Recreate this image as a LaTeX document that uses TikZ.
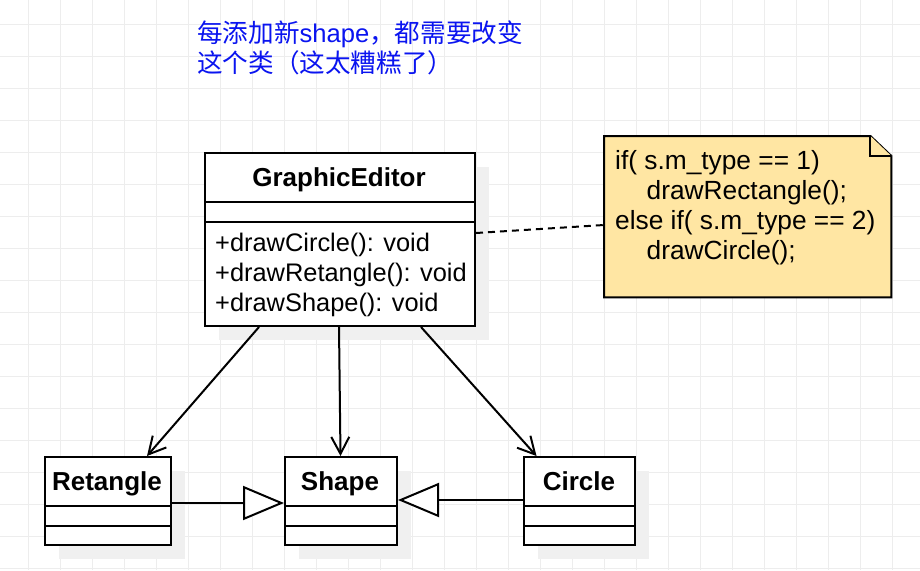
\documentclass[tikz,border=0pt]{standalone}
\usepackage{fontspec}
\setmainfont{Liberation Sans}
\newfontfamily\cjk{Noto Sans CJK SC}
\usetikzlibrary{arrows.meta,shadows}
\definecolor{gridc}{HTML}{EDEDED}
\definecolor{shadowc}{HTML}{F0F0F0}
\definecolor{notec}{HTML}{FFE6A3}
\definecolor{titlec}{HTML}{0A14F0}
\tikzset{
  gridline/.style={gridc, line width=1pt},
  classbox/.style={draw=black, line width=2pt, fill=white, inner sep=0pt, anchor=north west,
    general shadow={fill=shadowc, shadow xshift=14pt, shadow yshift=-14pt}},
  divider/.style={draw=black, line width=2pt},
  classname/.style={font=\bfseries\fontsize{26}{30}\selectfont, anchor=base, inner sep=0pt},
  member/.style={anchor=base west, inner sep=0pt, font=\fontsize{25.4}{30}\selectfont},
  notetext/.style={anchor=base west, inner sep=0pt, font=\fontsize{26.3}{30}\selectfont},
  assoc/.style={draw=black, line width=2pt, -{Straight Barb[length=17pt, width=18pt]}},
  gen/.style={draw=black, line width=2pt, line join=miter, -{Triangle[length=41pt, width=34pt, fill=white]}},
  notelink/.style={draw=black, line width=2pt, dash pattern=on 7pt off 5pt},
  notebody/.style={fill=notec, draw=black, line width=2pt, line join=miter},
  titletext/.style={text=titlec, anchor=base west, inner sep=0pt, font=\fontsize{25.6}{30}\selectfont}
}
\begin{document}
\begin{tikzpicture}[x=1pt, y=-1pt, font=\fontsize{25}{30}\selectfont]
\fill[white] (0,0) rectangle (920,570);
\useasboundingbox (0,0) rectangle (920,570);
% grid
\foreach \i in {0,...,28} \draw[gridline] ({28.5+32*\i},0) -- ++(0,570);
\foreach \j in {0,...,17} \draw[gridline] (0,{24.5+32*\j}) -- ++(920,0);

% title
\node[titletext] (title1) at (197,42) {{\cjk 每添加新}shape{\cjk ，都需要改变}};
\node[titletext] (title2) at (197,72) {{\cjk 这个类（这太糟糕了）}};

% GraphicEditor
\node[classbox, minimum width=270pt, minimum height=173pt] (ge) at (204,152) {};
\draw[divider] ([yshift=-50pt]ge.north west) -- ([yshift=-50pt]ge.north east);
\draw[divider] ([yshift=-70pt]ge.north west) -- ([yshift=-70pt]ge.north east);
\node[classname] (gename) at (339,186) {GraphicEditor};
\node[member] (gem1) at (215,251.5) {+drawCircle(): void};
\node[member] (gem2) at (215,281.5) {+drawRetangle(): void};
\node[member] (gem3) at (215,311) {+drawShape(): void};

% bottom classes
\node[classbox, minimum width=126pt, minimum height=88pt] (ret) at (44,456) {};
\node[classbox, minimum width=112pt, minimum height=88pt] (shape) at (284,456) {};
\node[classbox, minimum width=111pt, minimum height=88pt] (circ) at (523,456) {};
\foreach \n in {ret,shape,circ} {
  \draw[divider] ([yshift=-50pt]\n.north west) -- ([yshift=-50pt]\n.north east);
  \draw[divider] ([yshift=-70pt]\n.north west) -- ([yshift=-70pt]\n.north east);
}
\node[classname] (retname) at (107,490) {Retangle};
\node[classname] (shapename) at (340,490) {Shape};
\node[classname] (circname) at (579,490) {Circle};

% note
\node[inner sep=0pt, minimum width=287pt, minimum height=161pt, anchor=north west] (note) at (604,136) {};
\draw[notebody] (note.north west) -- ([xshift=-21pt]note.north east) -- ([yshift=-20pt]note.north east)
  -- (note.south east) -- (note.south west) -- cycle;
\draw[notebody] ([xshift=-21pt]note.north east) -- ([xshift=-21pt,yshift=-20pt]note.north east) -- ([yshift=-20pt]note.north east);
\node[notetext] (n1) at (615,169.5) {if( s.m\_type == 1)};
\node[notetext] (n2) at (646.5,199.5) {drawRectangle();};
\node[notetext] (n3) at (615,229.5) {else if( s.m\_type == 2)};
\node[notetext] (n4) at (646.5,259.5) {drawCircle();};

% connectors
\coordinate (noteend) at (604,225);
\draw[notelink] ([yshift=6.5pt]ge.east) -- (noteend);
\draw[assoc] ([xshift=-81pt]ge.south) -- ([xshift=39pt]ret.north);
\draw[assoc] ([xshift=-1pt]ge.south) -- ([xshift=-0.5pt]shape.north);
\draw[assoc] ([xshift=81pt]ge.south) -- ([xshift=-43pt]circ.north);
\draw[gen] ([yshift=-47pt]ret.north east) -- ([yshift=-47pt]shape.north west);
\draw[gen] ([yshift=-44pt]circ.north west) -- ([yshift=-44pt]shape.north east);
\end{tikzpicture}
\end{document}
